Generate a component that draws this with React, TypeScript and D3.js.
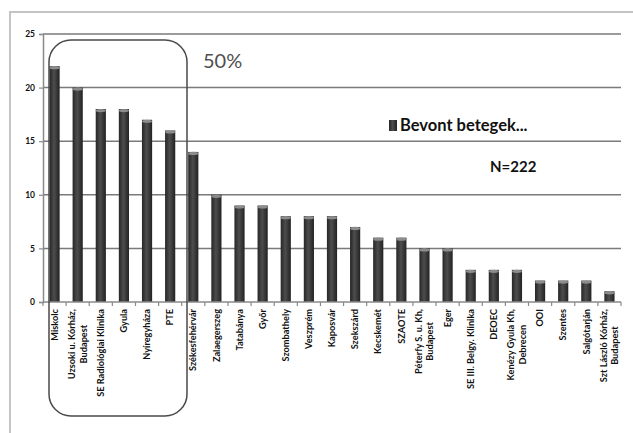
import React, { useEffect, useRef } from 'react';
import * as d3 from 'd3';

const categories: string[] = [
    'Miskolc',
    'Uzsoki u. Kórház,\nBudapest',
    'SE Radiológiai Klinika',
    'Gyula',
    'Nyíregyháza',
    'PTE',
    'Székesfehérvár',
    'Zalaegerszeg',
    'Tatabánya',
    'Győr',
    'Szombathely',
    'Veszprém',
    'Kaposvár',
    'Szekszárd',
    'Kecskemét',
    'SZAOTE',
    'Péterfy S. u. Kh,\nBudapest',
    'Eger',
    'SE III. Belgy. Klinika',
    'DEOEC',
    'Kenézy Gyula Kh,\nDebrecen',
    'OOI',
    'Szentes',
    'Salgótarján',
    'Szt László Kórház,\nBudapest',
];

const values: number[] = [22, 20, 18, 18, 17, 16, 14, 10, 9, 9, 8, 8, 8, 7, 6, 6, 5, 5, 3, 3, 3, 2, 2, 2, 1];

const yTicks: number[] = [0, 5, 10, 15, 20, 25];

const seriesName = 'Bevont betegek...';
const totalLabel = 'N=222';
const shareLabel = '50%';

const FONT = 'Lato, "Open Sans", "DejaVu Sans", sans-serif';

const App: React.FC = () => {
    const svgRef = useRef<SVGSVGElement>(null);

    useEffect(() => {
        if (!svgRef.current) return;
        const width = 633;
        const height = 433;

        const svg = d3.select(svgRef.current);
        svg.selectAll('*').remove();
        svg.attr('width', width).attr('height', height);

        svg.append('rect').attr('width', width).attr('height', height).attr('fill', 'white');

        // outer frame (top and left visible)
        svg.append('path')
            .attr('d', `M10,${height} L10,12 L${width},12`)
            .attr('fill', 'none')
            .attr('stroke', '#c4c4c4')
            .attr('stroke-width', 2);

        const margin = { top: 34, left: 43, right: 12, bottom: 131 };
        const x0 = margin.left;
        const x1 = width - margin.right;
        const y0 = height - margin.bottom;

        const x = d3.scaleBand<number>()
            .domain(d3.range(categories.length))
            .range([x0, x1])
            .paddingInner(0.56)
            .paddingOuter(0.28);
        const step = x.step();

        const y = d3.scaleLinear().domain([0, 25]).range([y0, margin.top]);

        const defs = svg.append('defs');
        const grad = defs.append('linearGradient').attr('id', 'barGrad').attr('x1', 0).attr('x2', 1).attr('y1', 0).attr('y2', 0);
        grad.append('stop').attr('offset', '0%').attr('stop-color', '#262626');
        grad.append('stop').attr('offset', '45%').attr('stop-color', '#4d4d4d');
        grad.append('stop').attr('offset', '100%').attr('stop-color', '#222');

        // gridlines
        svg.append('g')
            .selectAll('line')
            .data(yTicks.filter(t => t > 0))
            .enter()
            .append('line')
            .attr('x1', x0)
            .attr('x2', x1)
            .attr('y1', d => y(d))
            .attr('y2', d => y(d))
            .attr('stroke', '#7a7a7a')
            .attr('stroke-width', 1.5);

        // y axis
        const yAxis = svg.append('g')
            .attr('transform', `translate(${x0},0)`)
            .call(d3.axisLeft(y).tickValues(yTicks).tickSize(4).tickPadding(4));
        yAxis.select('.domain').attr('stroke', '#8a8a8a').attr('stroke-width', 1.5);
        yAxis.selectAll('line').attr('stroke', '#8a8a8a').attr('stroke-width', 1.2);
        yAxis.selectAll('text')
            .attr('font-family', FONT)
            .attr('font-size', 8.5)
            .attr('font-weight', 'bold')
            .attr('fill', '#111');

        // bars
        const bars = svg.append('g');
        bars.selectAll('rect')
            .data(values)
            .enter()
            .append('rect')
            .attr('x', (_, i) => x(i) || 0)
            .attr('y', d => y(d))
            .attr('width', x.bandwidth())
            .attr('height', d => y0 - y(d))
            .attr('fill', 'url(#barGrad)');
        bars.selectAll('ellipse')
            .data(values)
            .enter()
            .append('ellipse')
            .attr('cx', (_, i) => (x(i) || 0) + x.bandwidth() / 2)
            .attr('cy', d => y(d) + 1.5)
            .attr('rx', x.bandwidth() / 2)
            .attr('ry', 1.6)
            .attr('fill', '#8c8c8c');

        // x axis line and ticks between categories
        svg.append('line')
            .attr('x1', x0).attr('x2', x1)
            .attr('y1', y0).attr('y2', y0)
            .attr('stroke', '#8a8a8a')
            .attr('stroke-width', 1.5);
        svg.append('g')
            .selectAll('line')
            .data(d3.range(categories.length + 1))
            .enter()
            .append('line')
            .attr('x1', i => x0 + i * step)
            .attr('x2', i => x0 + i * step)
            .attr('y1', y0)
            .attr('y2', y0 + 4)
            .attr('stroke', '#8a8a8a')
            .attr('stroke-width', 1.2);

        // category labels, rotated; lines of one label centred on each other
        const labels = svg.append('g');
        categories.forEach((c, i) => {
            const lines = c.split('\n');
            const cx = (x(i) || 0) + x.bandwidth() / 2;
            const lh = 11.5;
            const texts = lines.map(ln => labels.append('text')
                .attr('text-anchor', 'middle')
                .attr('font-family', FONT)
                .attr('font-size', 9.2)
                .attr('font-weight', 'bold')
                .attr('fill', '#111')
                .text(ln));
            const maxLen = d3.max(texts, t => (t.node() as SVGTextElement).getComputedTextLength()) || 0;
            texts.forEach((t, j) => {
                const lx = cx + (j - (lines.length - 1) / 2) * lh + 3.2;
                t.attr('transform', `translate(${lx},${y0 + 7 + maxLen / 2}) rotate(-90)`);
            });
        });

        // highlight box around the first six sites
        svg.append('rect')
            .attr('x', 49)
            .attr('y', 40)
            .attr('width', 138)
            .attr('height', 376)
            .attr('rx', 22)
            .attr('ry', 22)
            .attr('fill', 'none')
            .attr('stroke', '#4a4a4a')
            .attr('stroke-width', 1.5);

        svg.append('text')
            .attr('x', 203)
            .attr('y', 68)
            .attr('font-family', FONT)
            .attr('font-size', 20)
            .attr('fill', '#4f4f4f')
            .text(shareLabel);

        // legend
        svg.append('rect')
            .attr('x', 389)
            .attr('y', 120)
            .attr('width', 8)
            .attr('height', 11)
            .attr('fill', 'url(#barGrad)');
        svg.append('text')
            .attr('x', 400)
            .attr('y', 131)
            .attr('font-family', FONT)
            .attr('font-size', 16.5)
            .attr('font-weight', 'bold')
            .attr('fill', '#111')
            .text(seriesName);

        svg.append('text')
            .attr('x', 490)
            .attr('y', 172)
            .attr('font-family', FONT)
            .attr('font-size', 15)
            .attr('font-weight', 'bold')
            .attr('fill', '#111')
            .text(totalLabel);
    }, []);

    return (
        <svg ref={svgRef} style={{ position: 'absolute', left: 0, top: 0 }}></svg>
    );
};

export default App;
